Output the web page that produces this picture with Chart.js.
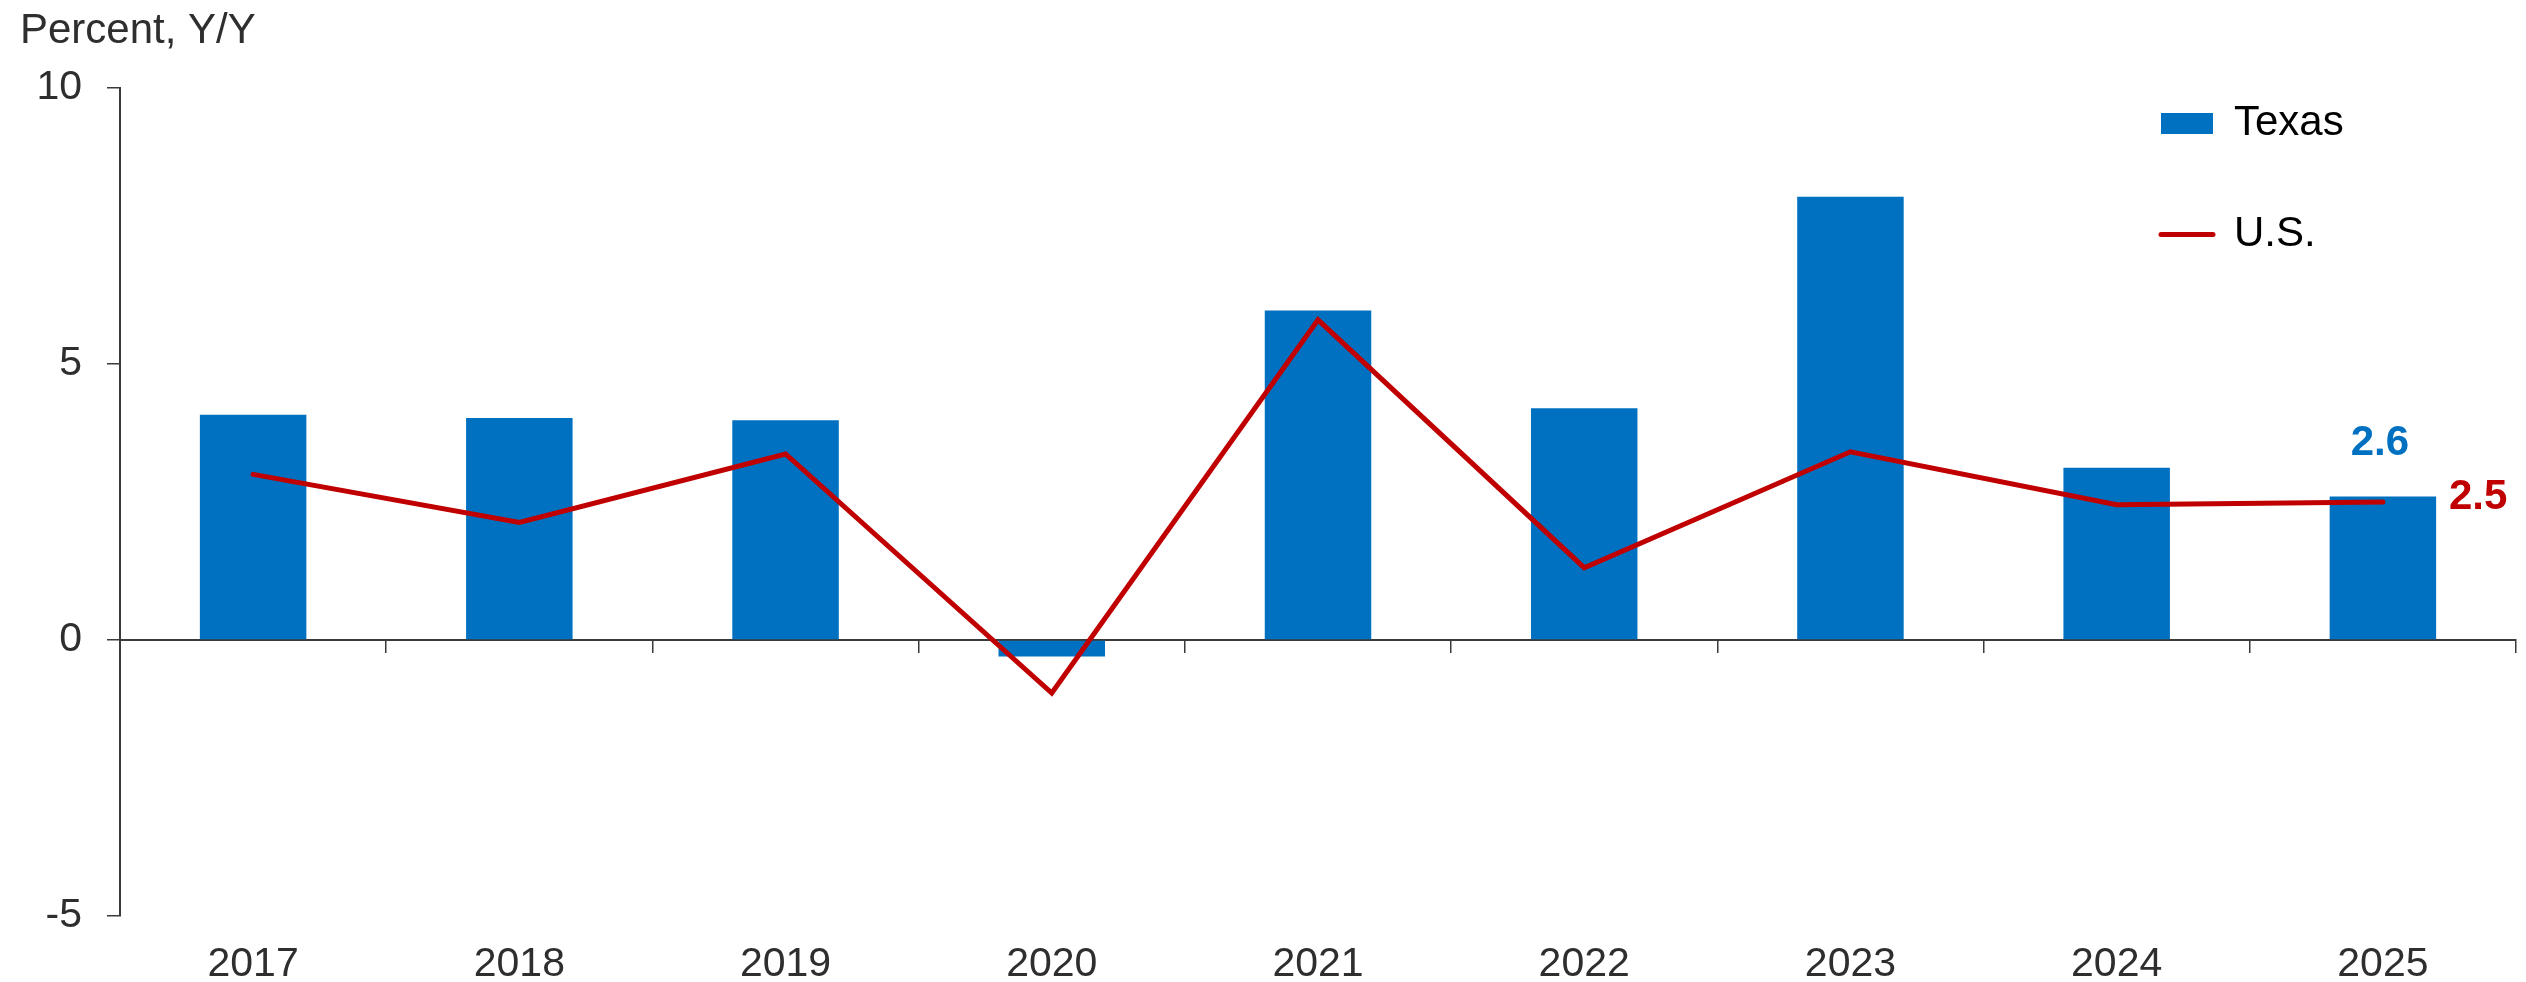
<!DOCTYPE html>
<html>
<head>
<meta charset="utf-8">
<title>Texas vs U.S., Percent Y/Y</title>
<script src="https://cdn.jsdelivr.net/npm/chart.js@4/dist/chart.umd.min.js"></script>
<style>
    html, body { margin: 0; padding: 0; background: #fff; }
    #wrap { width: 2526px; height: 982px; }
</style>
</head>
<body>
<div id="wrap"><canvas id="growth-chart" width="2526" height="982"></canvas></div>
<script>
// Chart data
var years = ['2017', '2018', '2019', '2020', '2021', '2022', '2023', '2024', '2025'];
var texas = [4.08, 4.02, 3.98, -0.3, 5.97, 4.2, 8.03, 3.12, 2.6];
var us = [3.0, 2.13, 3.37, -0.96, 5.8, 1.31, 3.41, 2.45, 2.5];
var yTicks = [-5, 0, 5, 10];

var texasColor = '#0070C0';
var usColor = '#C00000';
var textColor = '#2e2e2e';
var axisColor = '#3a3a3a';
var fontFamily = '"Liberation Sans", Arial, Helvetica, sans-serif';

Chart.defaults.font.family = fontFamily;
Chart.defaults.font.size = 41;
Chart.defaults.color = textColor;

// value labels for the last year
var lastValueLabels = {
    id: 'lastValueLabels',
    afterDatasetsDraw: function(chart) {
        var ctx = chart.ctx;
        var last = years.length - 1;
        var bar = chart.getDatasetMeta(0).data[last];
        var pt = chart.getDatasetMeta(1).data[last];
        ctx.save();
        ctx.font = 'bold 42px ' + fontFamily;
        ctx.textBaseline = 'middle';
        ctx.textAlign = 'center';
        ctx.fillStyle = texasColor;
        ctx.fillText(texas[last].toFixed(1), bar.x - 3, bar.y - 53);
        ctx.textAlign = 'left';
        ctx.fillStyle = usColor;
        ctx.fillText(us[last].toFixed(1), pt.x + 66, pt.y - 5);
        ctx.restore();
    }
};

// move the legend to the upper right of the plot
var legendSpot = {
    id: 'legendSpot',
    afterLayout: function(chart) {
        var area = chart.chartArea;
        chart.legend.left = area.right - 424;
        chart.legend.top = area.top - 54.5;
    }
};

var legendStyles = [
    { pointStyle: 'rect', lineWidth: 0, lineCap: 'butt' },
    { pointStyle: 'line', lineWidth: 5, lineCap: 'round' }
];

var ctx = document.getElementById('growth-chart').getContext('2d');
var chart = new Chart(ctx, {
    data: {
        labels: years,
        datasets: [{
            type: 'bar',
            label: 'Texas',
            data: texas,
            backgroundColor: texasColor,
            borderWidth: 0,
            barPercentage: 0.4,
            categoryPercentage: 1.0,
            xAxisID: 'x',
            order: 2
        }, {
            type: 'line',
            label: 'U.S.',
            data: us,
            borderColor: usColor,
            backgroundColor: usColor,
            borderWidth: 5,
            borderCapStyle: 'round',
            borderJoinStyle: 'miter',
            tension: 0,
            pointRadius: 0,
            pointHoverRadius: 0,
            fill: false,
            xAxisID: 'x',
            order: 1
        }]
    },
    options: {
        responsive: false,
        devicePixelRatio: 1,
        animation: false,
        events: [],
        layout: {
            padding: { left: 20, right: 10, top: 0, bottom: 0 }
        },
        scales: {
            x: {
                type: 'category',
                position: 'bottom',
                offset: true,
                grid: { display: false, drawTicks: false },
                border: { display: false },
                ticks: { padding: 24, maxRotation: 0, color: textColor },
                afterFit: function(scale) { scale.height = 66; }
            },
            x0: {
                type: 'category',
                position: { y: 0 },
                offset: true,
                grid: {
                    offset: true,
                    drawOnChartArea: false,
                    drawTicks: true,
                    tickLength: 12,
                    color: axisColor,
                    lineWidth: 1.5
                },
                border: { display: true, color: axisColor, width: 2 },
                ticks: { display: false }
            },
            y: {
                min: -5,
                max: 10,
                afterBuildTicks: function(scale) {
                    scale.ticks = yTicks.map(function(v) { return { value: v }; });
                },
                grid: {
                    drawOnChartArea: false,
                    drawTicks: true,
                    tickLength: 13,
                    color: axisColor,
                    lineWidth: 1.5
                },
                border: { display: true, color: axisColor, width: 2 },
                ticks: { padding: 25, color: textColor },
                afterFit: function(scale) { scale.width = 100; }
            }
        },
        plugins: {
            title: {
                display: true,
                text: 'Percent, Y/Y',
                align: 'start',
                color: textColor,
                font: { size: 42, weight: 'normal' },
                padding: { top: 6, bottom: 31.6 }
            },
            legend: {
                display: true,
                position: 'chartArea',
                align: 'start',
                labels: {
                    usePointStyle: true,
                    pointStyleWidth: 52,
                    boxHeight: 21,
                    padding: 69,
                    color: textColor,
                    font: { size: 42 },
                    generateLabels: function(chart) {
                        return chart.data.datasets.map(function(ds, i) {
                            return {
                                text: ds.label,
                                fillStyle: ds.backgroundColor,
                                strokeStyle: ds.type === 'line' ? ds.borderColor : ds.backgroundColor,
                                lineWidth: legendStyles[i].lineWidth,
                                lineCap: legendStyles[i].lineCap,
                                pointStyle: legendStyles[i].pointStyle,
                                datasetIndex: i,
                                hidden: false
                            };
                        });
                    }
                }
            },
            tooltip: { enabled: false }
        }
    },
    plugins: [lastValueLabels, legendSpot]
});
</script>
</body>
</html>
